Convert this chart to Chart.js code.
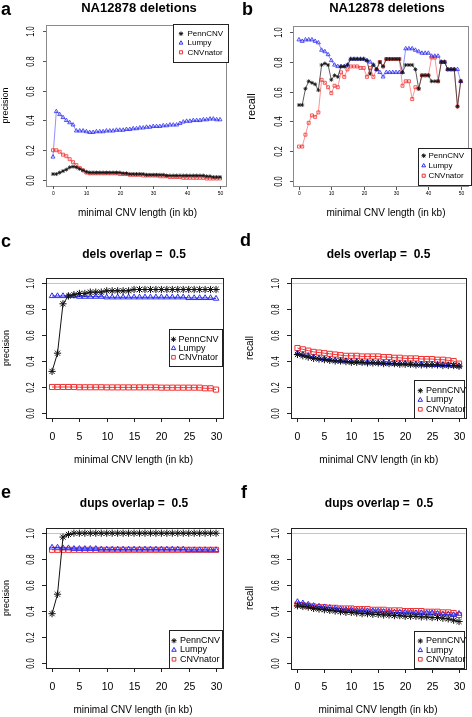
<!DOCTYPE html>
<html>
<head>
<meta charset="utf-8">
<script src="https://cdn.jsdelivr.net/npm/chart.js@4.4.1/dist/chart.umd.min.js"></script>
<style>
  html, body { margin: 0; padding: 0; background: #fff; }
  #fig { position: relative; width: 472px; height: 717px; overflow: hidden; }
  canvas { position: absolute; }
</style>
</head>
<body>
<div id="fig">
  <canvas id="pa" width="236" height="230" style="left:0;top:0"></canvas>
  <canvas id="pb" width="236" height="230" style="left:236px;top:0"></canvas>
  <canvas id="pc" width="236" height="245" style="left:0;top:230px"></canvas>
  <canvas id="pd" width="236" height="245" style="left:236px;top:230px"></canvas>
  <canvas id="pe" width="236" height="242" style="left:0;top:475px"></canvas>
  <canvas id="pf" width="236" height="242" style="left:236px;top:475px"></canvas>
</div>
<script>
/* ===== data ===== */
const seriesNames = ["PennCNV", "Lumpy", "CNVnator"];

const kbLong = [0,1,2,3,4,5,6,7,8,9,10,11,12,13,14,15,16,17,18,19,20,21,22,23,24,25,
                26,27,28,29,30,31,32,33,34,35,36,37,38,39,40,41,42,43,44,45,46,47,48,49,50];
const kbShort = [0,1,2,3,4,5,6,7,8,9,10,11,12,13,14,15,16,17,18,19,20,21,22,23,24,25,26,27,28,29,30];

const xTicksLong = [0, 10, 20, 30, 40, 50];
const xTicksShort = [0, 5, 10, 15, 20, 25, 30];
const yTicks = [0, 0.2, 0.4, 0.6, 0.8, 1.0];
const yTickLabels = ["0.0", "0.2", "0.4", "0.6", "0.8", "1.0"];

// a: NA12878 deletions, precision
const pennA = [0.04,0.04,0.05,0.06,0.07,0.085,0.09,0.085,0.075,0.065,
               0.055,0.05,0.05,0.05,0.05,0.05,0.05,0.05,0.05,0.05,
               0.05,0.045,0.045,0.04,0.04,0.04,0.04,0.04,0.035,0.035,
               0.035,0.035,0.035,0.035,0.03,0.03,0.03,0.03,0.03,0.03,
               0.03,0.03,0.03,0.03,0.03,0.03,0.025,0.025,0.02,0.02,0.02];
const lumpyA = [0.155,0.46,0.44,0.42,0.40,0.385,0.37,0.33,0.33,0.33,
                0.325,0.32,0.32,0.325,0.325,0.325,0.33,0.33,0.33,0.335,
                0.335,0.335,0.34,0.34,0.345,0.345,0.35,0.35,0.355,0.355,
                0.36,0.36,0.36,0.365,0.365,0.37,0.37,0.37,0.38,0.39,
                0.395,0.395,0.40,0.40,0.40,0.405,0.405,0.41,0.41,0.405,0.405];
const cnvA = [0.20,0.20,0.19,0.17,0.16,0.14,0.12,0.10,0.08,0.065,
              0.05,0.045,0.045,0.045,0.045,0.045,0.045,0.045,0.045,0.045,
              0.04,0.04,0.04,0.035,0.035,0.035,0.035,0.03,0.03,0.03,
              0.03,0.03,0.025,0.025,0.025,0.02,0.02,0.02,0.02,0.015,
              0.015,0.015,0.015,0.015,0.015,0.015,0.01,0.01,0.01,0.01,0.01];

// b: NA12878 deletions, recall
const pennB = [0.51,0.51,0.62,0.67,0.66,0.65,0.61,0.78,0.79,0.78,
               0.68,0.71,0.70,0.77,0.77,0.78,0.82,0.82,0.82,0.82,
               0.82,0.81,0.72,0.78,0.75,0.80,0.77,0.82,0.82,0.82,
               0.82,0.82,0.73,0.78,0.78,0.78,0.75,0.62,0.71,0.71,
               0.71,0.67,0.67,0.67,0.80,0.80,0.75,0.75,0.75,0.50,0.67];
const lumpyB = [0.95,0.94,0.95,0.95,0.95,0.94,0.93,0.88,0.87,0.85,
                0.81,0.78,0.77,0.77,0.77,0.78,0.82,0.82,0.82,0.82,
                0.82,0.81,0.80,0.78,0.75,0.73,0.70,0.73,0.73,0.73,
                0.73,0.73,0.73,0.89,0.89,0.89,0.88,0.87,0.86,0.86,
                0.86,0.84,0.84,0.84,0.80,0.80,0.75,0.75,0.75,0.75,0.67];
const cnvB = [0.23,0.23,0.31,0.39,0.44,0.43,0.46,0.68,0.66,0.63,
              0.59,0.64,0.63,0.73,0.70,0.75,0.77,0.77,0.77,0.76,
              0.76,0.70,0.76,0.70,0.75,0.80,0.77,0.82,0.82,0.82,
              0.82,0.82,0.64,0.67,0.67,0.55,0.63,0.62,0.71,0.71,
              0.71,0.83,0.83,0.67,0.80,0.80,0.75,0.75,0.75,0.50,0.67];

// c: dels overlap 0.5, precision
const pennC = [0.32,0.46,0.84,0.90,0.91,0.92,0.92,0.93,0.93,0.93,
               0.94,0.94,0.94,0.94,0.94,0.95,0.95,0.95,0.95,0.95,
               0.95,0.95,0.95,0.95,0.95,0.95,0.95,0.95,0.95,0.95,0.95];
const lumpyC = [0.90,0.90,0.90,0.90,0.90,0.895,0.895,0.895,0.895,0.895,
                0.89,0.89,0.89,0.89,0.89,0.89,0.89,0.89,0.89,0.89,
                0.89,0.89,0.89,0.89,0.89,0.885,0.885,0.885,0.885,0.885,0.88];
const cnvC = [0.20,0.20,0.20,0.20,0.20,0.198,0.198,0.198,0.198,0.198,
              0.197,0.197,0.197,0.197,0.197,0.197,0.197,0.197,0.197,0.197,
              0.195,0.195,0.195,0.195,0.195,0.195,0.195,0.195,0.19,0.19,0.18];

// d: dels overlap 0.5, recall
const pennD = [0.45,0.44,0.43,0.42,0.415,0.41,0.405,0.40,0.40,0.395,
               0.39,0.39,0.39,0.385,0.385,0.385,0.38,0.38,0.38,0.375,
               0.375,0.375,0.37,0.37,0.37,0.37,0.37,0.365,0.365,0.365,0.36];
const lumpyD = [0.46,0.45,0.44,0.43,0.42,0.415,0.41,0.405,0.40,0.40,
                0.395,0.395,0.39,0.39,0.39,0.385,0.385,0.385,0.38,0.38,
                0.38,0.375,0.375,0.375,0.37,0.37,0.37,0.37,0.37,0.365,0.36];
const cnvD = [0.50,0.49,0.48,0.47,0.465,0.46,0.455,0.45,0.445,0.44,
              0.44,0.44,0.435,0.435,0.435,0.435,0.43,0.43,0.425,0.425,
              0.42,0.42,0.42,0.415,0.415,0.415,0.41,0.41,0.405,0.40,0.38];

// e: dups overlap 0.5, precision
const pennE = [0.38,0.53,0.97,0.99,1.0,1.0,1.0,1.0,1.0,1.0,
               1.0,1.0,1.0,1.0,1.0,1.0,1.0,1.0,1.0,1.0,
               1.0,1.0,1.0,1.0,1.0,1.0,1.0,1.0,1.0,1.0,1.0];
const lumpyE = [0.89,0.89,0.885,0.885,0.88,0.88,0.88,0.88,0.88,0.875,
                0.875,0.875,0.875,0.875,0.875,0.875,0.875,0.875,0.875,0.875,
                0.875,0.875,0.875,0.875,0.875,0.87,0.87,0.87,0.87,0.87,0.87];
const cnvE = [0.872,0.872,0.872,0.872,0.872,0.872,0.872,0.872,0.872,0.872,
              0.872,0.872,0.872,0.872,0.872,0.872,0.872,0.872,0.872,0.872,
              0.872,0.872,0.872,0.872,0.872,0.872,0.872,0.872,0.872,0.872,0.872];

// f: dups overlap 0.5, recall
const pennF = [0.44,0.435,0.43,0.42,0.415,0.41,0.405,0.40,0.395,0.39,
               0.39,0.385,0.38,0.38,0.375,0.375,0.37,0.37,0.365,0.365,
               0.36,0.36,0.36,0.355,0.355,0.35,0.35,0.345,0.34,0.33,0.32];
const lumpyF = [0.47,0.46,0.45,0.44,0.435,0.43,0.425,0.42,0.415,0.41,
                0.41,0.405,0.405,0.40,0.40,0.40,0.395,0.395,0.39,0.39,
                0.39,0.39,0.385,0.385,0.385,0.385,0.38,0.375,0.375,0.37,0.38];
const cnvF = [0.45,0.445,0.44,0.435,0.43,0.43,0.425,0.425,0.42,0.42,
              0.42,0.415,0.415,0.415,0.41,0.41,0.41,0.405,0.405,0.405,
              0.40,0.40,0.40,0.40,0.395,0.395,0.395,0.39,0.39,0.385,0.37];

/* ===== styles ===== */
const FONT = '"Liberation Sans", Arial, Helvetica, sans-serif';
const BLACK = "#111";
const BLUE = "rgb(45,45,240)";
const RED = "rgb(240,50,50)";
const symbols = ["star", "triangle", "rect"];
const symColors = [BLACK, BLUE, RED];

// draws the R-like frame, axes, titles and legend around the chart area
const rFrame = {
  id: "rframe",
  beforeDatasetsDraw(chart, args, o) {
    if (!o.hline) return;
    const ctx = chart.ctx, a = chart.chartArea;
    const y = Math.round(chart.scales.y.getPixelForValue(1)) + 0.5;
    ctx.save();
    ctx.strokeStyle = "#c4c4c4";
    ctx.lineWidth = 1;
    ctx.beginPath();
    ctx.moveTo(a.left, y);
    ctx.lineTo(a.right, y);
    ctx.stroke();
    ctx.restore();
  },
  afterDraw(chart, args, o) {
    const ctx = chart.ctx, a = chart.chartArea;
    const xs = chart.scales.x, ys = chart.scales.y;
    ctx.save();
    // box
    ctx.strokeStyle = o.boxColor;
    ctx.lineWidth = 1;
    ctx.strokeRect(Math.round(a.left) + 0.5, Math.round(a.top) + 0.5,
                   Math.round(a.right - a.left), Math.round(a.bottom - a.top));
    // x axis ticks + labels
    ctx.strokeStyle = o.tickColor;
    ctx.fillStyle = "#000";
    ctx.font = o.xTickFont;
    ctx.textAlign = "center";
    ctx.textBaseline = "middle";
    o.xTicks.forEach(v => {
      const px = Math.round(xs.getPixelForValue(v)) + 0.5;
      ctx.beginPath();
      ctx.moveTo(px, Math.round(a.bottom));
      ctx.lineTo(px, Math.round(a.bottom) + o.tickLen);
      ctx.stroke();
      ctx.fillText(String(v), px, o.xTickY);
    });
    // y axis ticks + rotated labels
    o.yTicks.forEach((v, i) => {
      const py = Math.round(ys.getPixelForValue(v)) + 0.5;
      ctx.beginPath();
      ctx.moveTo(Math.round(a.left), py);
      ctx.lineTo(Math.round(a.left) - o.tickLen, py);
      ctx.stroke();
      txt(ctx, o.yTickLabels[i], o.yTickX, py, o.yTickFont, true, o.yTickScale);
    });
    // titles
    const midY = (a.top + a.bottom) / 2;
    txt(ctx, o.yTitle, o.yTitleX, midY, o.yTitleFont, true, 1);
    txt(ctx, o.xTitle, o.xTitlePos[0], o.xTitlePos[1], o.xTitleFont, false, 1);
    txt(ctx, o.title, o.titlePos[0], o.titlePos[1], o.titleFont, false, 1);
    ctx.font = "bold 18px " + FONT;
    ctx.textAlign = "left";
    ctx.textBaseline = "alphabetic";
    ctx.fillStyle = "#000";
    ctx.fillText(o.letter, o.letterPos[0], o.letterPos[1]);
    // legend
    const L = o.legend;
    ctx.fillStyle = "#fff";
    ctx.fillRect(L.x0, L.y0, L.x1 - L.x0, L.y1 - L.y0);
    ctx.strokeStyle = "#222";
    ctx.lineWidth = 1;
    ctx.strokeRect(Math.round(L.x0) + 0.5, Math.round(L.y0) + 0.5,
                   Math.round(L.x1 - L.x0), Math.round(L.y1 - L.y0));
    seriesNames.forEach((name, i) => {
      const y = L.rows[i];
      ctx.strokeStyle = symColors[i];
      ctx.fillStyle = "rgba(0,0,0,0)";
      Chart.helpers.drawPoint(ctx, { pointStyle: symbols[i], radius: L.r, borderWidth: 1, rotation: 0 }, L.symX, y);
      ctx.fillStyle = "#000";
      ctx.font = L.font;
      ctx.textAlign = "left";
      ctx.textBaseline = "middle";
      ctx.fillText(name, L.textX, y);
    });
    ctx.restore();
  }
};

function txt(ctx, s, x, y, font, rotate, sx) {
  ctx.save();
  ctx.font = font;
  ctx.fillStyle = "#000";
  ctx.textAlign = "center";
  ctx.textBaseline = "middle";
  ctx.translate(x, y);
  if (rotate) ctx.rotate(-Math.PI / 2);
  if (sx && sx !== 1) ctx.scale(sx, 1);
  ctx.fillText(s, 0, 0);
  ctx.restore();
}

function makeDatasets(xs, values, big) {
  return values.map((ys, i) => ({
    label: seriesNames[i],
    data: xs.map((x, k) => ({ x: x, y: ys[k] })),
    borderColor: big ? symColors[i] : ["#333", "rgba(70,70,255,0.75)", "rgba(255,70,70,0.75)"][i],
    borderWidth: big ? 1 : 0.8,
    pointStyle: symbols[i],
    pointRadius: big ? [3.6, 3.2, 3.6][i] : [2, 2.3, 2.1][i],
    pointBorderWidth: big ? 1 : 0.8,
    pointBorderColor: symColors[i],
    pointBackgroundColor: "rgba(0,0,0,0)",
    tension: 0,
    fill: false
  }));
}

function makePanel(id, xs, values, pad, xmin, xmax, frame, big) {
  new Chart(document.getElementById(id), {
    type: "line",
    data: { datasets: makeDatasets(xs, values, big) },
    plugins: [rFrame],
    options: {
      responsive: false,
      animation: false,
      events: [],
      layout: { padding: pad },
      scales: {
        x: { type: "linear", display: false, min: xmin, max: xmax },
        y: { type: "linear", display: false, min: -0.04, max: 1.04 }
      },
      plugins: {
        legend: { display: false },
        tooltip: { enabled: false },
        rframe: frame
      }
    }
  });
}

const smallText = {
  yTicks: yTicks, yTickLabels: yTickLabels,
  xTickFont: "5px " + FONT, yTickFont: "11px " + FONT, yTickScale: 0.68,
  xTitle: "minimal CNV length (in kb)", xTitleFont: "10px " + FONT,
  titleFont: "bold 13px " + FONT, title: "NA12878 deletions",
  tickLen: 3, boxColor: "#8a8a8a", tickColor: "#555", hline: false
};
const bigText = {
  yTicks: yTicks, yTickLabels: yTickLabels,
  xTickFont: "10.5px " + FONT, yTickFont: "10px " + FONT, yTickScale: 0.75,
  xTitle: "minimal CNV length (in kb)", xTitleFont: "10px " + FONT,
  titleFont: "bold 12px " + FONT,
  tickLen: 4, boxColor: "#222", tickColor: "#222", hline: true
};

makePanel("pa", kbLong, [pennA, lumpyA, cnvA],
  { left: 46.3, right: 9.3, top: 25, bottom: 44 }, -2, 52,
  Object.assign({}, smallText, {
    xTicks: xTicksLong, xTickY: 193.7, yTickX: 31, yTitle: "precision", yTitleFont: "9px " + FONT,
    yTitleX: 6, xTitlePos: [137.5, 213], titlePos: [139, 8.5], letter: "a", letterPos: [1, 15],
    legend: { x0: 173, y0: 24, x1: 228, y1: 62, rows: [33.7, 43, 52.3], symX: 181, textX: 187.5, r: 2.2, font: "8px " + FONT }
  }), false);

makePanel("pb", kbLong, [pennB, lumpyB, cnvB],
  { left: 56.5, right: 0.7, top: 26.4, bottom: 43.4 }, -2, 52,
  Object.assign({}, smallText, {
    xTicks: xTicksLong, xTickY: 193.7, yTickX: 42.5, yTitle: "recall", yTitleFont: "11px " + FONT,
    yTitleX: 16, xTitlePos: [150, 213], titlePos: [151, 8.5], letter: "b", letterPos: [6, 15],
    legend: { x0: 181.7, y0: 148, x1: 235, y1: 185, rows: [155.7, 165.7, 175.7], symX: 187.7, textX: 192.5, r: 2.2, font: "8px " + FONT }
  }), false);

makePanel("pc", kbShort, [pennC, lumpyC, cnvC],
  { left: 45.5, right: 13.4, top: 47.8, bottom: 56.8 }, -1.2, 31.2,
  Object.assign({}, bigText, {
    xTicks: xTicksShort, xTickY: 207, yTickX: 31.7, yTitle: "precision", yTitleFont: "9px " + FONT,
    yTitleX: 6.7, xTitlePos: [133.5, 230], title: "dels overlap =  0.5", titlePos: [134, 25],
    letter: "c", letterPos: [1, 17],
    legend: { x0: 169, y0: 99.3, x1: 221.7, y1: 136.7, rows: [109.3, 118.3, 127.3], symX: 173.5, textX: 178.5, r: 2.6, font: "9px " + FONT }
  }), true);

makePanel("pd", kbShort, [pennD, lumpyD, cnvD],
  { left: 55, right: 6.5, top: 47.8, bottom: 56.8 }, -1.2, 31.2,
  Object.assign({}, bigText, {
    xTicks: xTicksShort, xTickY: 207, yTickX: 40, yTitle: "recall", yTitleFont: "10px " + FONT,
    yTitleX: 14, xTitlePos: [142.8, 230], title: "dels overlap =  0.5", titlePos: [142.5, 25],
    letter: "d", letterPos: [4, 16],
    legend: { x0: 178.3, y0: 150, x1: 228.3, y1: 188.3, rows: [160.7, 170, 179.3], symX: 184.3, textX: 190, r: 2.6, font: "9px " + FONT }
  }), true);

makePanel("pe", kbShort, [pennE, lumpyE, cnvE],
  { left: 45.5, right: 13.4, top: 53, bottom: 48.8 }, -1.2, 31.2,
  Object.assign({}, bigText, {
    xTicks: xTicksShort, xTickY: 211.7, yTickX: 31.7, yTitle: "precision", yTitleFont: "9px " + FONT,
    yTitleX: 7, xTitlePos: [133, 235], title: "dups overlap =  0.5", titlePos: [134, 29],
    letter: "e", letterPos: [1, 23],
    legend: { x0: 169, y0: 155, x1: 221.7, y1: 193.3, rows: [165.7, 175, 184.3], symX: 174, textX: 180, r: 2.6, font: "9px " + FONT }
  }), true);

makePanel("pf", kbShort, [pennF, lumpyF, cnvF],
  { left: 55, right: 6.5, top: 52.5, bottom: 48.5 }, -1.2, 31.2,
  Object.assign({}, bigText, {
    xTicks: xTicksShort, xTickY: 211.7, yTickX: 40, yTitle: "recall", yTitleFont: "10px " + FONT,
    yTitleX: 14, xTitlePos: [142, 235], title: "dups overlap =  0.5", titlePos: [143, 29],
    letter: "f", letterPos: [5, 23],
    legend: { x0: 178.3, y0: 156, x1: 228.3, y1: 193.3, rows: [166, 175.3, 184.3], symX: 184.3, textX: 190, r: 2.6, font: "9px " + FONT }
  }), true);
</script>
</body>
</html>
